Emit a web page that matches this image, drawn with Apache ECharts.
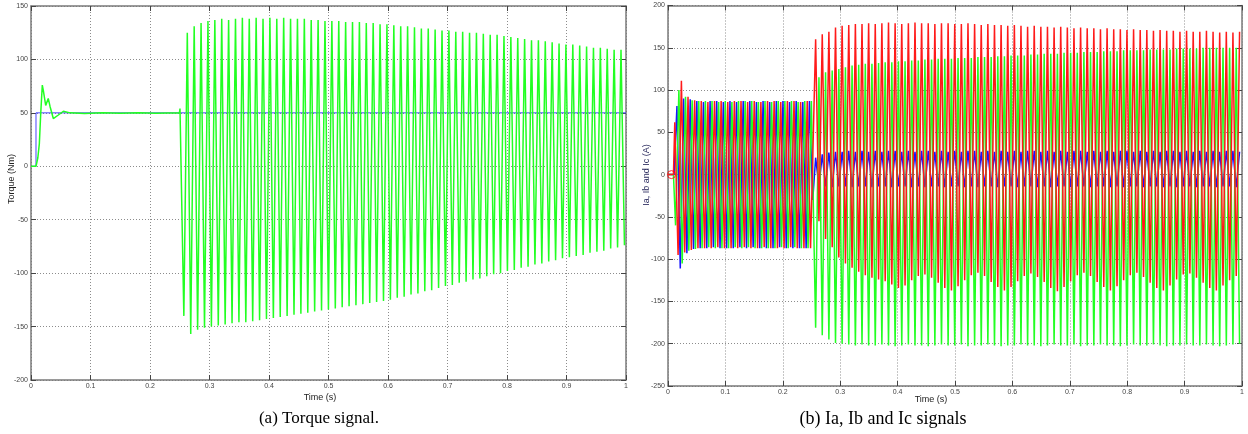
<!DOCTYPE html>
<html><head><meta charset="utf-8">
<script src="https://cdn.jsdelivr.net/npm/echarts@6/dist/echarts.min.js"></script>
<style>html,body{margin:0;padding:0;background:#fff}#c{width:1248px;height:434px}</style>
</head><body><div id="c"></div>
<script>
// ================= DATA =================
// ---- (a) Torque ----
// reference torque (blue)
const torqueRefT = [0, 0.0084, 0.0084, 1.0];
const torqueRefV = [0, 0, 50, 50];
// electromagnetic torque (green): start-up transient
const torqueStartT = [0, 0.0084, 0.0115, 0.014, 0.0163, 0.019, 0.0207, 0.0247, 0.029, 0.032, 0.0375, 0.046, 0.0544, 0.0655, 0.09, 0.12, 0.15, 0.18, 0.21, 0.2495, 0.2504];
const torqueStartV = [0, 0, 8, 21, 49, 76, 71, 57, 63.5, 56, 44.7, 48, 51.5, 50, 49.5, 50, 49.6, 50, 49.6, 50, 54];
// oscillation after t = 0.25 s (one trough / one peak per cycle)
const torqueOscStart = 0.2569;   // time of first trough (s)
const torquePeriod = 0.01157;    // period of the oscillation (s)
const torqueTroughs = [-140,-157,-153,-151,-150,-149,-148,-147,-146,-146,
  -145,-144,-143,-142,-141,-140,-139,-138,-137,-136,
  -135,-134,-133,-132,-131,-130,-129,-128,-127,-126,
  -125,-123,-122,-120,-119,-117,-116,-114,-112,-111,
  -109,-108,-106,-105,-103,-101,-100,-98,-97,-95,
  -94,-92,-91,-89,-88,-86,-85,-84,-83,-81,
  -80,-79,-77,-76,-74];
const torquePeaks = [125,131,134,136,137,138,137,138,139,138,
  139,138,139,138,139,138,138,138,137,137,
  136,136,136,135,135,135,134,134,133,133,
  132,131,131,130,129,129,128,127,127,126,
  126,125,125,124,123,123,122,121,120,119,
  118,118,117,116,115,114,114,113,112,111,
  111,110,109,109];

// ---- (b) Phase currents Ia (red), Ib (green), Ic (blue) ----
const currentPeriod = 0.01154;   // s
// before the fault: alternating extremes every half period
const iaPreStart = 0.0118;   // first extreme is a peak
const iaPre = [62,-95,111,-92,92,-89,88,-87,87,-87, 86,-87,87,-86,87,-87,86,-87,87,-87,
  87,-86,86,-87,87,-87,86,-86,87,-87, 87,-87,86,-87,87,-86,87,-87,86,-87, 87,-87];
const ibPreStart = 0.0132;   // first extreme is a trough
const ibPre = [-60,100,-105,92,-90,88,-88,87,-87,87, -86,87,-87,86,-87,87,-87,86,-86,87,
  -87,87,-86,87,-87,86,-87,87,-87,86, -87,87,-86,87,-87,87,-86,86,-87,87, -87,87];
const icPreStart = 0.0156;   // first extreme is a peak
const icPre = [81,-111,90,-93,89,-88,87,-87,86,-87, 87,-86,87,-87,86,-87,87,-87,86,-86,
  87,-87,87,-86,86,-87,87,-87,86,-87, 87,-86,87,-87,86,-87,87,-87,86,-87, 87,-30];
const currentsOnset = 0.0095; // currents are zero before this time
// after the fault (t > 0.25 s)
const postStart = 0.2572;     // Ia / Ic peaks and Ib troughs start here
const iaPostPeaks = [160,166,169,174,176,177,178,178,179,178,
  179,180,179,178,179,180,179,179,178,179,
  179,178,178,179,178,177,178,177,177,176,
  177,176,175,176,175,175,174,175,174,173,
  174,173,173,172,173,172,172,171,172,171,
  171,170,171,170,170,169,170,169,169,170,
  169,168,169,168,169];
const iaPostTroughs = [-55,-76,-86,-98,-105,-110,-115,-119,-122,-124,
  -126,-130,-134,-131,-125,-120,-118,-122,-128,-134,
  -137,-132,-125,-119,-116,-120,-127,-133,-137,-133,
  -126,-120,-117,-121,-127,-134,-138,-133,-126,-119,
  -116,-120,-127,-133,-137,-132,-125,-119,-116,-121,
  -128,-134,-137,-131,-124,-118,-117,-122,-128,-134,
  -137,-131,-125,-120];
const ibPostTroughs = [-181,-190,-195,-199,-200,-201,-202,-201,-202,-202,
  -201,-202,-203,-202,-201,-202,-202,-203,-202,-201,
  -202,-202,-201,-203,-202,-202,-201,-202,-203,-202,
  -202,-201,-202,-202,-203,-202,-201,-202,-202,-201,
  -203,-202,-202,-201,-202,-202,-203,-202,-201,-202,
  -202,-201,-202,-203,-202,-202,-201,-202,-202,-201,
  -202,-203,-202,-201,-200];
const ibPostPeaks = [115,121,123,125,127,129,130,131,131,132,
  133,133,134,134,135,135,136,136,137,137,
  137,138,138,138,139,139,139,140,140,141,
  141,141,142,142,143,143,143,144,144,144,
  145,145,145,146,146,146,147,147,147,147,
  148,148,148,148,149,149,149,149,150,150,
  150,150,150,150];
const icPostPeaks = [20,24,26,27,27,28,27,28,27,28,
  27,28,28,27,28,27,28,28,27,28,
  27,28,27,28,28,27,28,27,28,27,
  28,27,28,28,27,28,27,28,27,28,
  28,27,28,27,28,27,28,28,27,28,
  27,28,27,28,28,27,28,27,28,27,
  28,27,28,28,27];
const icPostTroughs = [-14,-14,-15,-14,-14,-15,-14,-14,-15,-14,
  -14,-15,-14,-14,-15,-14,-15,-14,-14,-15,
  -14,-14,-15,-14,-15,-14,-14,-15,-14,-14,
  -15,-14,-14,-15,-14,-15,-14,-14,-15,-14,
  -14,-15,-14,-14,-15,-14,-15,-14,-14,-15,
  -14,-14,-15,-14,-15,-14,-14,-15,-14,-14,
  -15,-14,-14,-15];
const startMarker = [0.006, 0];

// axis ticks
const timeTicks = [0,0.1,0.2,0.3,0.4,0.5,0.6,0.7,0.8,0.9,1];
const torqueTicks = [-200,-150,-100,-50,0,50,100,150];
const currentTicks = [-250,-200,-150,-100,-50,0,50,100,150,200];

// ================= BUILD SERIES =================
function pairs(ts, vs){ return ts.map((t,i)=>[t, vs[i]]); }
function alternating(start, half, vals){ return vals.map((v,i)=>[+(start + i*half).toFixed(5), v]); }
function interleave(start, period, firstArr, secondArr){
  const out = [];
  for (let k = 0; k < firstArr.length; k++){
    out.push([+(start + k*period).toFixed(5), firstArr[k]]);
    if (k < secondArr.length) out.push([+(start + (k+0.5)*period).toFixed(5), secondArr[k]]);
  }
  return out;
}
const torqueGreen = pairs(torqueStartT, torqueStartV)
  .concat(interleave(torqueOscStart, torquePeriod, torqueTroughs, torquePeaks));
const torqueBlue = pairs(torqueRefT, torqueRefV);
const half = currentPeriod/2;
const ia = [[0,0],[currentsOnset,0]].concat(alternating(iaPreStart, half, iaPre))
  .concat(interleave(postStart, currentPeriod, iaPostPeaks, iaPostTroughs));
const ib = [[0,0],[currentsOnset,0]].concat(alternating(ibPreStart, half, ibPre))
  .concat(interleave(postStart, currentPeriod, ibPostTroughs, ibPostPeaks));
const ic = [[0,0],[currentsOnset+0.001,0]].concat(alternating(icPreStart, half, icPre))
  .concat(interleave(postStart, currentPeriod, icPostPeaks, icPostTroughs));

// ================= CHART =================
const FONT = 'Liberation Sans';
const gridLine = {show:true, lineStyle:{color:'#8c8c8c', type:[1,2], width:1}};
const frameColor = '#7a7a7a';
function xMain(g){ return {gridIndex:g, type:'value', min:0, max:1, interval:0.1, position:'bottom',
  axisLine:{show:true, onZero:false, lineStyle:{color:frameColor, width:1.5}},
  axisTick:{show:true, inside:true, length:5, lineStyle:{color:'#444'}},
  axisLabel:{show:true, margin:3, fontSize:7, fontFamily:FONT, color:'#444',
    formatter:v=>String(+v.toFixed(1))},
  splitLine:gridLine}; }
function xTop(g){ return {gridIndex:g, type:'value', min:0, max:1, interval:0.1, position:'top',
  axisLine:{show:true, onZero:false, lineStyle:{color:frameColor, width:1.5}},
  axisTick:{show:true, inside:true, length:5, lineStyle:{color:'#444'}},
  axisLabel:{show:false}, splitLine:{show:false}}; }
function yMain(g, mn, mx){ return {gridIndex:g, type:'value', min:mn, max:mx, interval:50, position:'left',
  axisLine:{show:true, onZero:false, lineStyle:{color:frameColor, width:1.5}},
  axisTick:{show:true, inside:true, length:5, lineStyle:{color:'#444'}},
  axisLabel:{show:true, margin:3, fontSize:7, fontFamily:FONT, color:'#444'},
  splitLine:gridLine}; }
function yRight(g, mn, mx){ return {gridIndex:g, type:'value', min:mn, max:mx, interval:50, position:'right',
  axisLine:{show:true, onZero:false, lineStyle:{color:frameColor, width:1.5}},
  axisTick:{show:true, inside:true, length:5, lineStyle:{color:'#444'}},
  axisLabel:{show:false}, splitLine:{show:false}}; }

function line(name, data, color, xi, yi, z, w){
  return {name, type:'line', data, xAxisIndex:xi, yAxisIndex:yi, showSymbol:false, symbol:'none',
    silent:true, animation:false, z:z||2,
    lineStyle:{color, width:w||1.5}, itemStyle:{color}};
}

const chart = echarts.init(document.getElementById('c'), null, {renderer:'canvas'});
chart.setOption({
  animation:false,
  backgroundColor:'#ffffff',
  grid:[{left:31, top:6, width:595, height:374},
        {left:668, top:5.5, width:574, height:380.5}],
  xAxis:[xMain(0), xTop(0), xMain(1), xTop(1)],
  yAxis:[yMain(0,-200,150), yRight(0,-200,150), yMain(1,-250,200), yRight(1,-250,200)],
  series:[
    line('Torque ref', torqueBlue, '#4646ff', 0, 0, 2, 1),
    line('Torque', torqueGreen, '#22ff22', 0, 0, 3, 1.5),
    line('Ic', ic, '#1414ff', 2, 2, 2, 1.5),
    line('Ib', ib, '#22ff22', 2, 2, 3, 1.5),
    line('Ia', ia, '#ff1a1a', 2, 2, 4, 1.5),
    {type:'scatter', xAxisIndex:2, yAxisIndex:2, data:[startMarker], symbol:'circle', symbolSize:8,
     silent:true, z:5, itemStyle:{color:'rgba(0,0,0,0)', borderColor:'#ff0000', borderWidth:1}}
  ],
  graphic:[
    {type:'text', x:12, y:179, rotation:Math.PI/2, style:{text:'Torque (Nm)', fontSize:9, fontFamily:FONT, fill:'#222', align:'center', verticalAlign:'middle'}},
    {type:'text', x:320, y:398, style:{text:'Time (s)', fontSize:9, fontFamily:FONT, fill:'#222', align:'center', verticalAlign:'middle'}},
    {type:'text', x:647, y:175, rotation:Math.PI/2, style:{text:'Ia, Ib and Ic (A)', fontSize:9, fontFamily:FONT, fill:'#2b2b5e', align:'center', verticalAlign:'middle'}},
    {type:'text', x:931, y:400, style:{text:'Time (s)', fontSize:9, fontFamily:FONT, fill:'#222', align:'center', verticalAlign:'middle'}},
    {type:'text', x:319, y:419, style:{text:'(a) Torque signal.', fontSize:17, fontFamily:'Liberation Serif', fill:'#000', align:'center', verticalAlign:'middle'}},
    {type:'text', x:883, y:419, style:{text:'(b) Ia, Ib and Ic signals', fontSize:18, fontFamily:'Liberation Serif', fill:'#000', align:'center', verticalAlign:'middle'}}
  ]
});
</script></body></html>
